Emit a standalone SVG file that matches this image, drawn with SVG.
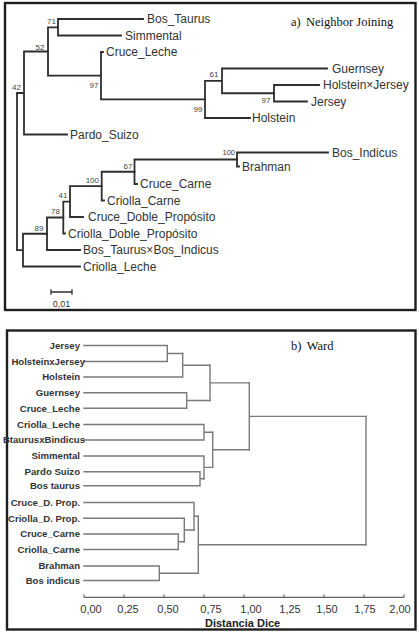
<svg xmlns="http://www.w3.org/2000/svg" width="419" height="635" viewBox="0 0 419 635">
<style>
.frame{fill:#fff;stroke:#1e1e1e;stroke-width:2.4}
.br{fill:none;stroke:#2e2e2e;stroke-width:1.8;stroke-linecap:square}
.wd{fill:none;stroke:#7a7a7a;stroke-width:1.4;stroke-linecap:square}
.ax{fill:none;stroke:#666;stroke-width:1.2}
.tx{font-family:"Liberation Sans",Arial,sans-serif;font-size:12px;fill:#333}
.bs{font-family:"Liberation Sans",Arial,sans-serif;font-size:8px;fill:#444;text-anchor:end}
.ttl{font-family:"Liberation Serif","Times New Roman",serif;font-size:12.5px;fill:#111}
.wl{font-family:"Liberation Sans",Arial,sans-serif;font-size:9.6px;font-weight:bold;fill:#333;text-anchor:end}
.tk{font-family:"Liberation Sans",Arial,sans-serif;font-size:11px;fill:#333;text-anchor:middle}
</style>
<rect width="419" height="635" fill="#fff"/>
<rect class="frame" x="5" y="3" width="410.5" height="307"/>
<rect class="frame" x="7" y="330.5" width="408.5" height="299"/>

<g id="title-a" class="ttl"><text x="291" y="25.7">a)</text><text x="306" y="25.7">Neighbor Joining</text></g>
<g id="title-b" class="ttl"><text x="291" y="349.5">b)</text><text x="306.7" y="349.5">Ward</text></g>

<g id="connectors">
<g id="nj-branches" class="br">
<path d="M17 93V250.1M17 93H24M24 51.5V134.5M24 51.5H48M24 134.5H67"/>
<path d="M48 27.3V75.7M48 27.3H58M48 75.7H101"/>
<path d="M58 19V35.5M58 19H143M58 35.5H121"/>
<path d="M101 52V99.45M101 52H103M101 99.45H205"/>
<path d="M205 80.9V118M205 80.9H222M205 118H250"/>
<path d="M222 68.5V93.25M222 68.5H327M222 93.25H274"/>
<path d="M274 85V101.5M274 85H319M274 101.5H307"/>
<path d="M17 250.1H23M23 233.75V266.5M23 233.75H47M23 266.5H80"/>
<path d="M47 217.5V250M47 217.5H63.3M47 250H80"/>
<path d="M63.3 201.55V233.5M63.3 201.55H70M63.3 233.5H65"/>
<path d="M70 186.1V217M70 186.1H101.7M70 217H83"/>
<path d="M101.7 171.75V200.5M101.7 171.75H134.5M101.7 200.5H104"/>
<path d="M134.5 159.5V184M134.5 159.5H237M134.5 184H137"/>
<path d="M237 152.5V166.5M237 152.5H328M237 166.5H239"/>
</g>
<g id="scale-bar" class="br" style="stroke-width:1.3">
<path d="M51 292H72M51 289.8V294.2M72 289.8V294.2"/>
</g>
<g id="ward-branches" class="wd">
<path d="M84 345.5H167.3M84 361.5H167.3M167.3 345.5V361.5M167.3 353.5H182.7"/>
<path d="M84 377H182.7M182.7 353.5V377M182.7 365.25H210"/>
<path d="M84 392.7H186.7M84 408.3H186.7M186.7 392.7V408.3M186.7 400.5H210"/>
<path d="M210 365.25V400.5M210 382.9H249.3"/>
<path d="M84 424.5H204M84 440H204M204 424.5V440M204 432.25H212.7"/>
<path d="M84 471.7H200M84 485.7H200M200 471.7V485.7M200 478.7H204"/>
<path d="M84 456H204M204 456V478.7M204 467.35H212.7"/>
<path d="M212.7 432.25V467.35M212.7 449.8H249.3"/>
<path d="M249.3 382.9V449.8M249.3 416.35H366"/>
<path d="M84 534H178.3M84 549.5H178.3M178.3 534V549.5M178.3 541.75H184.3"/>
<path d="M84 518.3H184.3M184.3 518.3V541.75M184.3 530H194"/>
<path d="M84 502.5H194M194 502.5V530M194 516.25H198.3"/>
<path d="M84 566H159.3M84 580.5H159.3M159.3 566V580.5M159.3 573.25H198.3"/>
<path d="M198.3 516.25V573.25M198.3 544.75H366"/>
<path d="M366 416.35V544.75"/>
</g>
</g>

<g id="bootstrap">
<text class="bs" x="56" y="23.5">71</text>
<text class="bs" x="44.5" y="49.5">52</text>
<text class="bs" x="21" y="89.5">42</text>
<text class="bs" x="98.5" y="87.5">97</text>
<text class="bs" x="202.5" y="111.5">99</text>
<text class="bs" x="218.5" y="76.5">61</text>
<text class="bs" x="270.5" y="102.5">97</text>
<text class="bs" x="235" y="155" style="font-size:7.5px">100</text>
<text class="bs" x="132.5" y="168.5">67</text>
<text class="bs" x="99" y="182.5">100</text>
<text class="bs" x="67.5" y="197.5">41</text>
<text class="bs" x="60" y="214">78</text>
<text class="bs" x="43.5" y="230.5">89</text>
</g>

<g id="nj-bos-taurus"><text class="tx" x="147" y="23.2">Bos_Taurus</text></g>
<g id="nj-simmental"><text class="tx" x="125" y="39.7">Simmental</text></g>
<g id="nj-cruce-leche"><text class="tx" x="106" y="56.2">Cruce_Leche</text></g>
<g id="nj-guernsey"><text class="tx" x="332" y="72.7">Guernsey</text></g>
<g id="nj-holstein-jersey"><text class="tx" x="323" y="89.2">Holstein×Jersey</text></g>
<g id="nj-jersey"><text class="tx" x="311" y="105.7">Jersey</text></g>
<g id="nj-holstein"><text class="tx" x="252" y="122.2">Holstein</text></g>
<g id="nj-pardo-suizo"><text class="tx" x="70" y="138.7">Pardo_Suizo</text></g>
<g id="nj-bos-indicus"><text class="tx" x="332" y="156.7">Bos_Indicus</text></g>
<g id="nj-brahman"><text class="tx" x="242" y="170.7">Brahman</text></g>
<g id="nj-cruce-carne"><text class="tx" x="140" y="188.2">Cruce_Carne</text></g>
<g id="nj-criolla-carne"><text class="tx" x="107" y="204.7">Criolla_Carne</text></g>
<g id="nj-cruce-doble"><text class="tx" x="88" y="221.2">Cruce_Doble_Propósito</text></g>
<g id="nj-criolla-doble"><text class="tx" x="68" y="237.7">Criolla_Doble_Propósito</text></g>
<g id="nj-taurus-indicus"><text class="tx" x="83" y="254.2">Bos_Taurus×Bos_Indicus</text></g>
<g id="nj-criolla-leche"><text class="tx" x="83" y="270.7">Criolla_Leche</text></g>
<g id="scale-label"><text class="tk" x="61.5" y="307" style="font-size:9px">0,01</text></g>

<g id="w-jersey"><text class="wl" x="80" y="348.9">Jersey</text></g>
<g id="w-holstein-jersey"><text class="wl" x="85" y="364.9">HolsteinxJersey</text></g>
<g id="w-holstein"><text class="wl" x="80" y="380.4">Holstein</text></g>
<g id="w-guernsey"><text class="wl" x="80" y="396.1">Guernsey</text></g>
<g id="w-cruce-leche"><text class="wl" x="80" y="411.7">Cruce_Leche</text></g>
<g id="w-criolla-leche"><text class="wl" x="80" y="427.9">Criolla_Leche</text></g>
<g id="w-btaurus-bindicus"><text class="wl" x="85" y="443.4">BtaurusxBindicus</text></g>
<g id="w-simmental"><text class="wl" x="80" y="459.4">Simmental</text></g>
<g id="w-pardo-suizo"><text class="wl" x="80" y="475.1">Pardo Suizo</text></g>
<g id="w-bos-taurus"><text class="wl" x="80" y="489.1">Bos taurus</text></g>
<g id="w-cruce-dprop"><text class="wl" x="80" y="505.9">Cruce_D. Prop.</text></g>
<g id="w-criolla-dprop"><text class="wl" x="80" y="521.7">Criolla_D. Prop.</text></g>
<g id="w-cruce-carne"><text class="wl" x="80" y="537.4">Cruce_Carne</text></g>
<g id="w-criolla-carne"><text class="wl" x="80" y="552.9">Criolla_Carne</text></g>
<g id="w-brahman"><text class="wl" x="80" y="569.4">Brahman</text></g>
<g id="w-bos-indicus"><text class="wl" x="80" y="583.9">Bos indicus</text></g>

<g id="axis">
<path class="ax" d="M84 597.3H404M84 594.5V597.3M124 594.5V597.3M164 594.5V597.3M204 594.5V597.3M244 594.5V597.3M284 594.5V597.3M324 594.5V597.3M364 594.5V597.3M404 594.5V597.3"/>
<text class="tk" x="91" y="612.5">0,00</text>
<text class="tk" x="128" y="612.5">0,25</text>
<text class="tk" x="168" y="612.5">0,50</text>
<text class="tk" x="211" y="612.5">0,75</text>
<text class="tk" x="251" y="612.5">1,00</text>
<text class="tk" x="290" y="612.5">1,25</text>
<text class="tk" x="327" y="612.5">1,50</text>
<text class="tk" x="365" y="612.5">1,75</text>
<text class="tk" x="400" y="612.5">2,00</text>
<text x="205" y="626.7" style="font-family:'Liberation Sans',Arial,sans-serif;font-size:11px;font-weight:bold;fill:#222">Distancia Dice</text>
</g>
</svg>
